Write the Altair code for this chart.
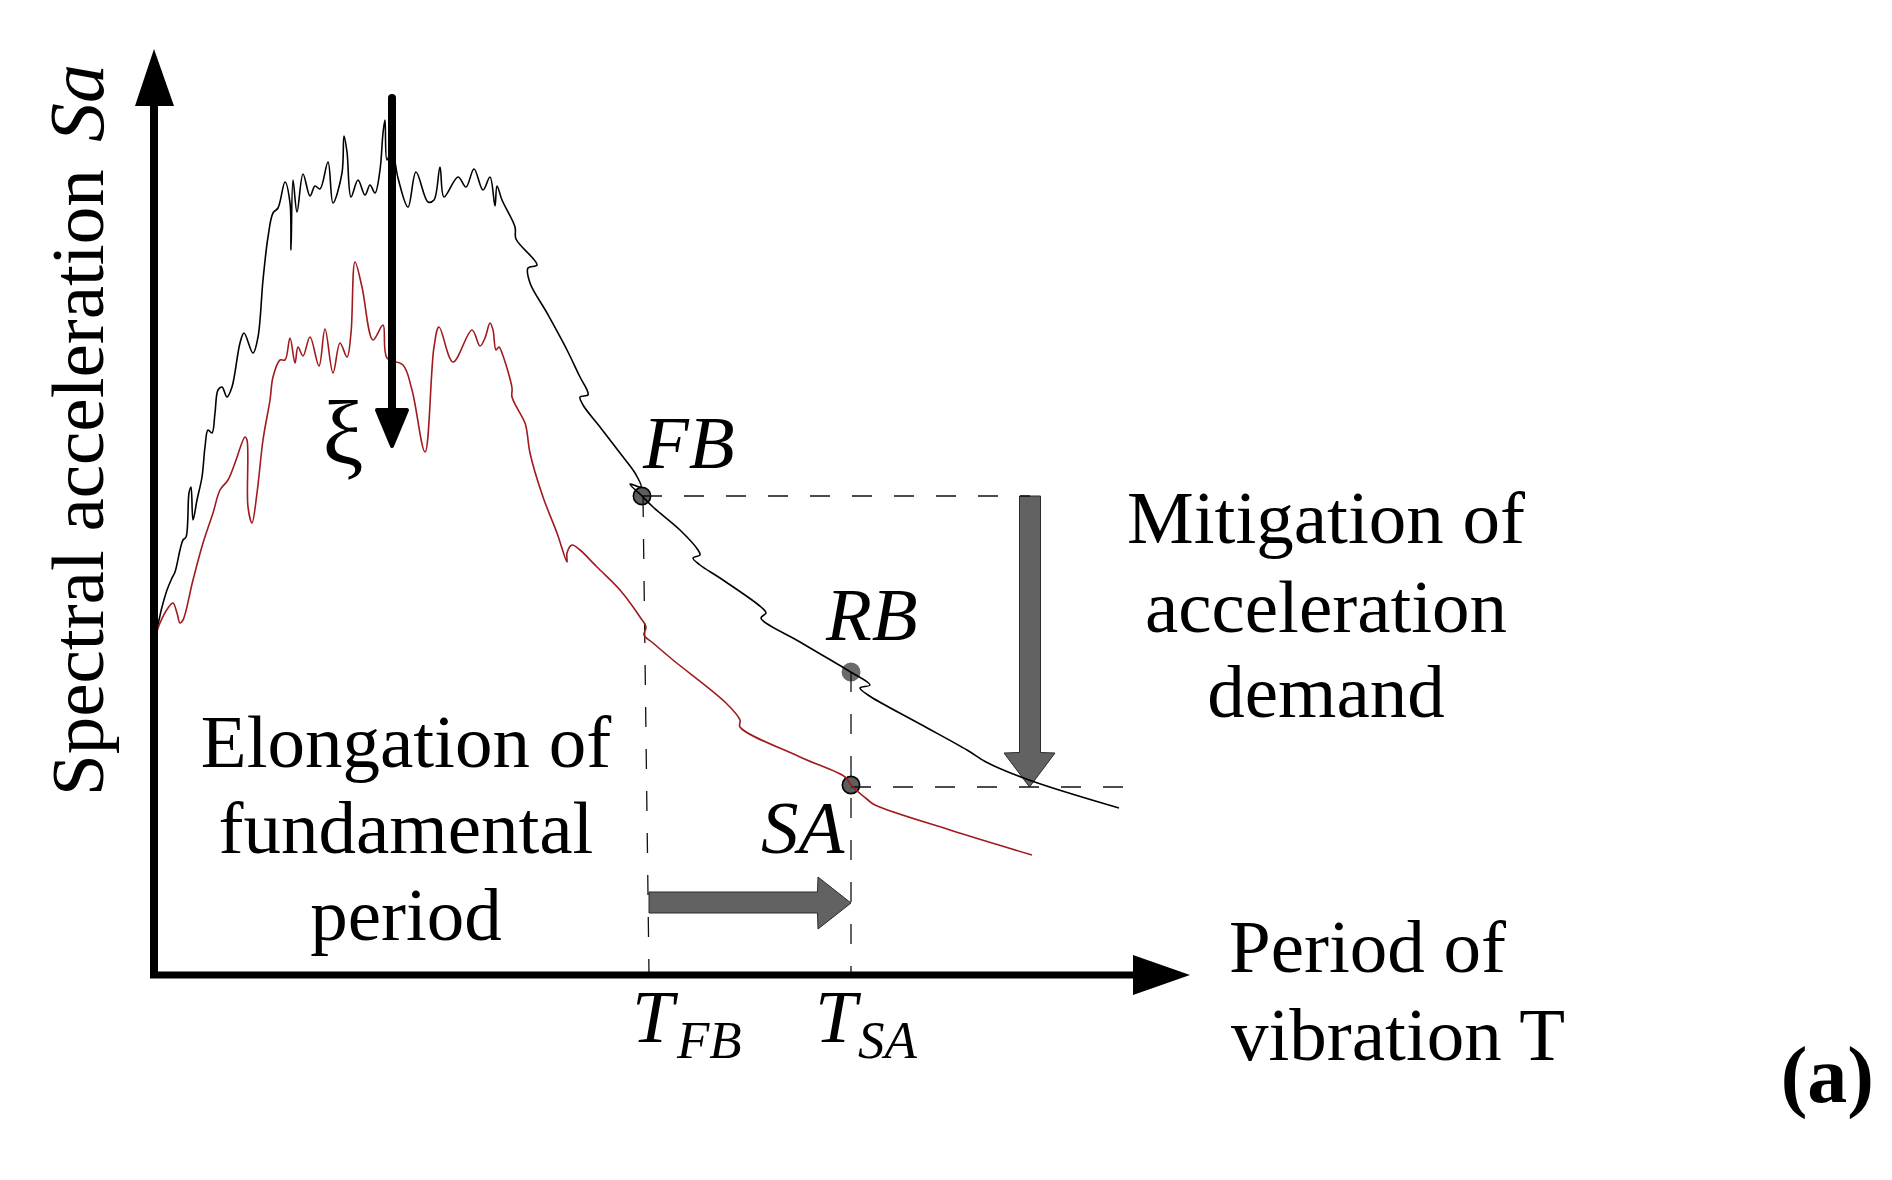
import altair as alt
import pandas as pd

# Schematic units: T (period axis) and Sa (spectral acceleration axis),
# origin at the corner of the two axis arrows.
black_T = [0, 3, 8, 13, 18, 21, 26, 29, 32, 35, 37, 39, 43, 48, 51, 54, 58, 61, 64, 68, 73, 78,
           86, 90, 99, 104, 109, 114, 119, 124, 131, 136, 137, 139, 143, 149, 156, 161, 166, 174,
           179, 188, 190, 193, 197, 204, 211, 216, 221, 226, 229, 231, 233, 238, 244, 254, 262,
           274, 280, 286, 290, 304, 312, 320, 329, 336, 341, 343, 348, 361, 362, 383, 374, 376,
           393, 413, 426, 433, 434, 426, 429, 446, 466, 481, 487, 476, 488, 499, 526, 544, 546,
           539, 546, 566, 607, 612, 607, 646, 695, 716, 706, 714, 766, 813, 832, 875, 965]
black_Sa = [343, 348, 368, 385, 397, 403, 425, 435, 438, 482, 488, 455, 475, 498, 528, 545, 542,
            562, 585, 588, 578, 588, 632, 642, 622, 638, 695, 738, 762, 767, 793, 772, 725, 795,
            763, 801, 779, 789, 786, 813, 772, 802, 839, 823, 778, 795, 780, 790, 782, 805, 842,
            855, 815, 825, 797, 768, 803, 773, 775, 808, 778, 798, 788, 806, 785, 798, 769, 789,
            775, 748, 736, 710, 707, 692, 662, 625, 598, 585, 580, 578, 570, 548, 522, 502, 488,
            491, 479, 468, 445, 425, 420, 417, 410, 397, 368, 362, 357, 333, 304, 290, 287, 280,
            251, 225, 213, 195, 167]

red_T = [1, 6, 14, 19, 23, 26, 29, 39, 49, 59, 66, 74, 81, 91, 93, 94, 98, 103, 109, 116, 119,
         126, 131, 136, 141, 144, 149, 156, 165, 171, 179, 186, 193, 197, 201, 208, 219, 229, 233,
         249, 258, 271, 280, 285, 299, 318, 326, 331, 336, 339, 342, 345, 348, 358, 358, 371, 373,
         376, 389, 403, 413, 413, 418, 426, 443, 466, 486, 492, 490, 499, 519, 572, 586, 586, 646,
         691, 697, 714, 721, 796, 878]
red_Sa = [337, 352, 367, 372, 362, 352, 355, 395, 432, 462, 485, 495, 512, 538, 535, 468, 452, 482,
          535, 575, 598, 615, 615, 637, 612, 628, 619, 638, 609, 646, 602, 632, 618, 642, 713, 688,
          635, 650, 617, 610, 585, 523, 628, 648, 613, 645, 629, 637, 652, 645, 625, 628, 622, 587,
          578, 552, 543, 522, 478, 442, 413, 422, 430, 425, 408, 385, 358, 348, 340, 332, 315, 272,
          255, 248, 218, 198, 190, 175, 170, 145, 120]

point_names = ["FB", "RB", "SA"]
point_T = [488, 697, 697]
point_Sa = [479, 303, 190]
point_fill = ["#5e5e5e", "#6b6b6b", "#5e5e5e"]
point_stroke = ["#000000", "#6b6b6b", "#000000"]

# dashed guide lines (start / end)
guide_T = [488, 489, 697, 697]
guide_Sa = [479, 478, 303, 188]
guide_T2 = [876, 495, 697, 970]
guide_Sa2 = [479, 0, 0, 188]

# gray arrows (outline points)
right_arrow_T = [495, 663.5, 664, 697]
right_arrow_top = [83, 83, 98, 72]
right_arrow_bot = [62, 62, 46, 72]
down_arrow_Sa = [479, 222.5, 222, 188]
down_arrow_left = [865.5, 865.5, 850, 875.5]
down_arrow_right = [886.5, 886.5, 901, 875.5]

# damping (xi) arrow
xi_shaft_T = [238]
xi_shaft_Sa = [877]
xi_shaft_Sa2 = [542]
xi_head_Sa = [565, 529]
xi_head_left = [223, 238]
xi_head_right = [253, 238]

# axes
yaxis_head_Sa = [869, 926]
yaxis_head_left = [-19, 0]
yaxis_head_right = [20, 0]
xaxis_head_T = [979, 1036]
xaxis_head_top = [20, 0]
xaxis_head_bot = [-20, 0]

FONT = "Liberation Serif"
XS = alt.Scale(domain=[-146, 1730], nice=False, zero=False)
YS = alt.Scale(domain=[-197, 967], nice=False, zero=False)


def X(f):
    return alt.X(f, type="quantitative", scale=XS, axis=None)


def Y(f):
    return alt.Y(f, type="quantitative", scale=YS, axis=None)


layers = []

# gray arrows
layers.append(alt.Chart(pd.DataFrame({"T": right_arrow_T, "top": right_arrow_top, "bot": right_arrow_bot}))
              .mark_area(orient="vertical", color="#626262", stroke="#2a2a2a", strokeWidth=1)
              .encode(x=X("T"), y=Y("top"), y2="bot"))
layers.append(alt.Chart(pd.DataFrame({"Sa": down_arrow_Sa, "l": down_arrow_left, "r": down_arrow_right}))
              .mark_area(orient="horizontal", color="#626262", stroke="#2a2a2a", strokeWidth=1)
              .encode(y=Y("Sa"), x=X("l"), x2="r"))

# points
pts = pd.DataFrame({"name": point_names, "T": point_T, "Sa": point_Sa,
                    "fill": point_fill, "stroke": point_stroke})
layers.append(alt.Chart(pts).mark_circle(size=300, opacity=1, strokeWidth=1.6)
              .encode(x=X("T"), y=Y("Sa"),
                      color=alt.Color("fill:N", scale=None),
                      stroke=alt.Stroke("stroke:N", scale=None)))

# dashed guides
layers.append(alt.Chart(pd.DataFrame({"T": guide_T, "Sa": guide_Sa, "T2": guide_T2, "Sa2": guide_Sa2}))
              .mark_rule(strokeDash=[20, 22], strokeWidth=1.3, color="#111111")
              .encode(x=X("T"), y=Y("Sa"), x2="T2", y2="Sa2"))

# spectra
bl = pd.DataFrame({"T": black_T, "Sa": black_Sa, "i": list(range(len(black_T)))})
rd = pd.DataFrame({"T": red_T, "Sa": red_Sa, "i": list(range(len(red_T)))})
layers.append(alt.Chart(rd).mark_line(color="#a01a1f", strokeWidth=1.6, strokeJoin="round",
                                      interpolate="catmull-rom")
              .encode(x=X("T"), y=Y("Sa"), order="i:Q"))
layers.append(alt.Chart(bl).mark_line(color="#000000", strokeWidth=1.6, strokeJoin="round",
                                      interpolate="catmull-rom")
              .encode(x=X("T"), y=Y("Sa"), order="i:Q"))

# xi arrow
layers.append(alt.Chart(pd.DataFrame({"T": xi_shaft_T, "Sa": xi_shaft_Sa, "Sa2": xi_shaft_Sa2}))
              .mark_rule(strokeWidth=8, strokeCap="round", color="black")
              .encode(x=X("T"), y=Y("Sa"), y2="Sa2"))
layers.append(alt.Chart(pd.DataFrame({"Sa": xi_head_Sa, "l": xi_head_left, "r": xi_head_right}))
              .mark_area(orient="horizontal", color="black", stroke="black", strokeWidth=4, strokeJoin="round")
              .encode(y=Y("Sa"), x=X("l"), x2="r"))

# axes
layers.append(alt.Chart(pd.DataFrame({"T": [0], "Sa": [-3], "Sa2": [869]}))
              .mark_rule(strokeWidth=8, color="black")
              .encode(x=X("T"), y=Y("Sa"), y2="Sa2"))
layers.append(alt.Chart(pd.DataFrame({"T": [-4], "T2": [979], "Sa": [0]}))
              .mark_rule(strokeWidth=7, color="black")
              .encode(x=X("T"), x2="T2", y=Y("Sa")))
layers.append(alt.Chart(pd.DataFrame({"Sa": yaxis_head_Sa, "l": yaxis_head_left, "r": yaxis_head_right}))
              .mark_area(orient="horizontal", color="black")
              .encode(y=Y("Sa"), x=X("l"), x2="r"))
layers.append(alt.Chart(pd.DataFrame({"T": xaxis_head_T, "top": xaxis_head_top, "bot": xaxis_head_bot}))
              .mark_area(orient="vertical", color="black")
              .encode(x=X("T"), y=Y("top"), y2="bot"))


def text_layer(labels, Ts, Sas, size, align="left", style="normal", weight="normal", angle=0):
    df = pd.DataFrame({"label": labels, "T": Ts, "Sa": Sas})
    kw = dict(font=FONT, fontSize=size, align=align, baseline="alphabetic",
              fontStyle=style, fontWeight=weight, color="black")
    if angle:
        kw["angle"] = angle
    return alt.Chart(df).mark_text(**kw).encode(x=X("T"), y=Y("Sa"), text="label:N")


# texts
layers.append(text_layer(["Elongation of", "fundamental", "period"], [252, 252, 252], [208, 122, 35], 75, "center"))
layers.append(text_layer(["Mitigation of", "acceleration", "demand"], [1172, 1172, 1172], [432, 343, 258], 75, "center"))
layers.append(text_layer(["Period of", "vibration T"], [1075, 1077], [3, -85], 75, "left"))
layers.append(text_layer(["FB", "RB", "SA", "T", "T"], [489, 672, 607, 478, 661], [507, 335, 122, -67, -67], 75, "left", "italic"))
layers.append(text_layer(["FB", "SA"], [523, 704], [-83, -83], 53, "left", "italic"))
layers.append(text_layer(["Spectral acceleration"], [-51], [179], 75, "left", angle=270))
layers.append(text_layer(["Sa"], [-51], [833], 78, "left", "italic", angle=270))
layers.append(text_layer(["ξ"], [189], [511], 92, "center"))
layers.append(text_layer(["(a)"], [1720], [-127], 80, "right", weight="bold"))

chart = (alt.layer(*layers)
         .properties(width=1876, height=1164, padding=0,
                     autosize=alt.AutoSizeParams(type="none"), background="white")
         .configure_view(stroke=None))

chart.save("out.html", embed_options={"renderer": "svg", "actions": False})
